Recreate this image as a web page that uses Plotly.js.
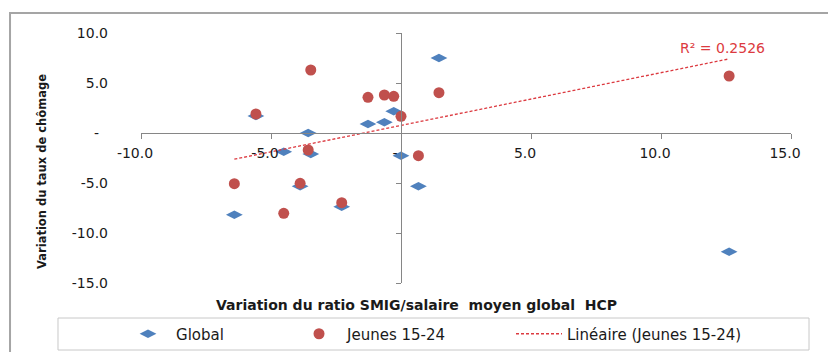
<!DOCTYPE html>
<html>
<head>
<meta charset="utf-8">
<script src="https://cdn.plot.ly/plotly-3.0.1.min.js"></script>
<style>
  html, body { margin: 0; padding: 0; background: #ffffff; }
  #chart { width: 828px; height: 352px; }
</style>
</head>
<body>
<div id="chart"></div>
<script>
// Variation du ratio SMIG / salaire moyen (axe X) et variation du taux de chômage (axe Y)
const ratioVariation = [-3.47, -5.58, -3.57, -1.27, -0.64, -0.28, 0.0, 0.67, 1.46, 12.62, -6.41, -3.88, -4.51, -2.28];
const globalVariation = [-2.1, 1.7, 0.0, 0.9, 1.07, 2.17, -2.27, -5.33, 7.5, -11.87, -8.17, -5.33, -1.87, -7.37];
const jeunesVariation = [6.3, 1.9, -1.7, 3.57, 3.8, 3.67, 1.67, -2.27, 4.03, 5.7, -5.07, -5.03, -8.03, -6.97];

const seriesNames = ['Global', 'Jeunes 15-24', 'Linéaire (Jeunes 15-24)'];
const xTickVals = [-10, -5, 0, 5, 10, 15];
const xTickText = ['-10.0', '-5.0', '-', '5.0', '10.0', '15.0'];
const yTickVals = [-15, -10, -5, 0, 5, 10];
const yTickText = ['-15.0', '-10.0', '-5.0', '-\u00a0\u00a0', '5.0', '10.0'];
const r2Label = 'R² = 0.2526';
const xTitle = 'Variation du ratio SMIG/salaire\u00a0 moyen global\u00a0 HCP';
const yTitle = 'Variation du taux de chômage';

// Droite des moindres carrés sur la série « Jeunes 15-24 »
function linearFit(xs, ys) {
  const n = xs.length;
  const mx = xs.reduce((a, b) => a + b, 0) / n;
  const my = ys.reduce((a, b) => a + b, 0) / n;
  let sxy = 0, sxx = 0;
  for (let i = 0; i < n; i++) {
    sxy += (xs[i] - mx) * (ys[i] - my);
    sxx += (xs[i] - mx) * (xs[i] - mx);
  }
  const slope = sxy / sxx;
  return { slope: slope, intercept: my - slope * mx };
}
const fit = linearFit(ratioVariation, jeunesVariation);
const fitX = [Math.min(...ratioVariation), Math.max(...ratioVariation)];
const fitY = fitX.map(x => fit.intercept + fit.slope * x);

const FONT = 'DejaVu Sans, sans-serif';
const TXT = '#1a1a1a';
const AXIS = '#868686';
const BLUE = '#4F81BD';
const RED = '#C0504D';
const TREND = '#DC3A40';

const traces = [
  {
    type: 'scatter', mode: 'markers', name: seriesNames[0],
    x: ratioVariation, y: globalVariation,
    marker: { symbol: 'diamond-wide', size: 12, color: BLUE },
    legend: 'legend'
  },
  {
    type: 'scatter', mode: 'markers', name: seriesNames[1],
    x: ratioVariation, y: jeunesVariation,
    marker: { symbol: 'circle', size: 11, color: RED },
    legend: 'legend2'
  },
  {
    type: 'scatter', mode: 'lines', name: seriesNames[2],
    x: fitX, y: fitY, yaxis: 'y2',
    line: { color: TREND, width: 1.3, dash: '3px,2px' },
    legend: 'legend3'
  }
];

const legendBase = {
  orientation: 'h', yanchor: 'middle', y: -0.204, xanchor: 'left',
  bgcolor: 'rgba(0,0,0,0)', borderwidth: 0, itemwidth: 46,
  font: { family: FONT, size: 15, color: TXT }
};

const layout = {
  width: 828, height: 352,
  margin: { l: 141, r: 37, t: 33, b: 69, pad: 0, autoexpand: false },
  paper_bgcolor: '#ffffff', plot_bgcolor: 'rgba(0,0,0,0)',
  font: { family: FONT, size: 14, color: TXT },
  showlegend: true,
  xaxis: {
    range: [-10, 15], anchor: 'free', position: 0.6,
    showline: true, linecolor: AXIS, linewidth: 1,
    ticks: 'outside', ticklen: 5, tickcolor: AXIS, tickwidth: 1,
    tickmode: 'array', tickvals: xTickVals, ticktext: xTickText,
    ticklabelstandoff: 2, ticklabelshift: -6,
    tickfont: { family: FONT, size: 14, color: TXT },
    showgrid: false, zeroline: false, fixedrange: true
  },
  yaxis: {
    range: [-15, 10],
    showline: false, ticks: '',
    tickmode: 'array', tickvals: yTickVals, ticktext: yTickText,
    ticklabelstandoff: 32,
    tickfont: { family: FONT, size: 14, color: TXT },
    showgrid: false, zeroline: false, fixedrange: true
  },
  yaxis2: {
    range: [-15, 10], overlaying: 'y', anchor: 'free', position: 0.4, side: 'left',
    showline: true, linecolor: AXIS, linewidth: 1,
    ticks: 'outside', ticklen: 5, tickcolor: AXIS, tickwidth: 1,
    tickmode: 'array', tickvals: yTickVals, showticklabels: false,
    showgrid: false, zeroline: false, fixedrange: true
  },
  legend: Object.assign({}, legendBase, { x: -0.0323 }),
  legend2: Object.assign({}, legendBase, { x: 0.2308 }),
  legend3: Object.assign({}, legendBase, { x: 0.5692 }),
  shapes: [
    // cadre de la zone du graphique
    { type: 'rect', xref: 'paper', yref: 'paper', x0: -0.2015, x1: 1.2, y0: -0.5, y1: 1.08,
      line: { color: '#a5a5a5', width: 2 }, fillcolor: 'rgba(0,0,0,0)', layer: 'below' },
    // cadre de la légende
    { type: 'rect', xref: 'paper', yref: 'paper', x0: -0.1277, x1: 1.0277, y0: -0.268, y1: -0.14,
      line: { color: '#c8c8c8', width: 1 }, fillcolor: 'rgba(0,0,0,0)', layer: 'below' }
  ],
  annotations: [
    { text: xTitle, xref: 'paper', yref: 'paper', x: 0.4246, y: -0.088,
      xanchor: 'center', yanchor: 'middle', showarrow: false,
      font: { family: FONT, size: 14, color: TXT, weight: 'bold' } },
    { text: yTitle, xref: 'paper', yref: 'paper', x: -0.1523, y: 0.444,
      xanchor: 'center', yanchor: 'middle', textangle: -90, showarrow: false,
      font: { family: FONT, size: 11.5, color: TXT, weight: 'bold' } },
    { text: r2Label, xref: 'x', yref: 'y', x: 12.35, y: 8.5,
      xanchor: 'center', yanchor: 'middle', showarrow: false,
      font: { family: FONT, size: 14, color: TREND } }
  ]
};

Plotly.newPlot('chart', traces, layout, { displayModeBar: false, staticPlot: true });
</script>
</body>
</html>
